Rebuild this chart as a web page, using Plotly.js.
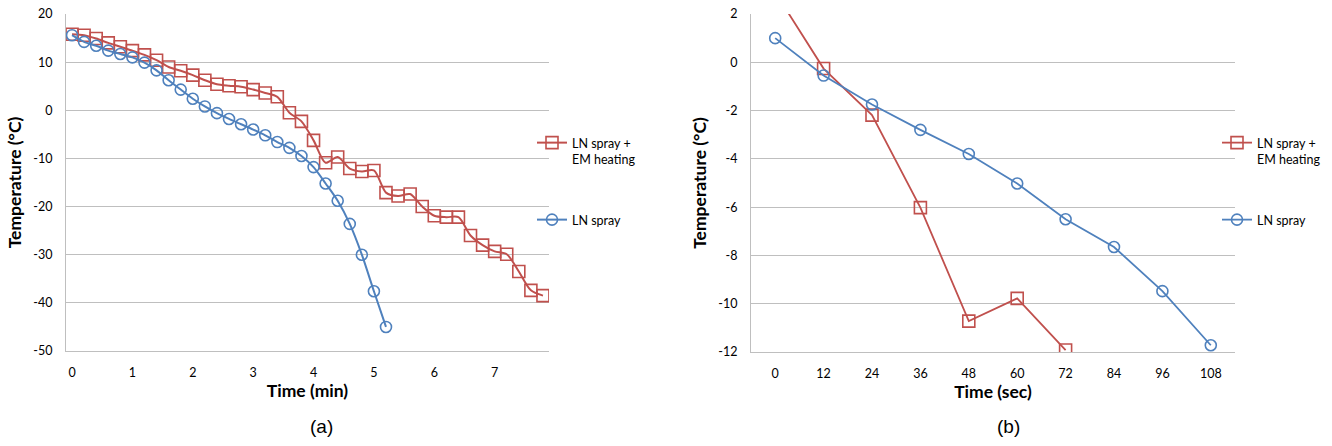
<!DOCTYPE html>
<html>
<head>
<meta charset="utf-8">
<script src="https://cdn.plot.ly/plotly-3.0.1.min.js"></script>
<style>html,body{margin:0;padding:0;background:#fff}#chart{width:1332px;height:446px}</style>
</head>
<body>
<div id="chart"></div>
<script>
// (a) time in minutes
var timeA = [0,0.2,0.4,0.6,0.8,1.0,1.2,1.4,1.6,1.8,2.0,2.2,2.4,2.6,2.8,3.0,3.2,3.4,3.6,3.8,4.0,4.2,4.4,4.6,4.8,5.0,5.2,5.4,5.6,5.8,6.0,6.2,6.4,6.6,6.8,7.0,7.2,7.4,7.6,7.8];
var emA = [15.8,15.6,14.9,14.0,13.2,12.4,11.5,10.4,9.0,8.2,7.3,6.25,5.4,5.1,4.9,4.3,3.6,2.8,-0.5,-2.3,-6.25,-10.9,-9.7,-12.1,-12.7,-12.5,-17.1,-17.8,-17.4,-20.0,-21.9,-22.2,-22.2,-26.0,-28.0,-29.3,-29.9,-33.5,-37.4,-38.5];
var lnA = [15.6,14.2,13.4,12.4,11.7,11.0,9.9,8.3,6.25,4.3,2.4,0.8,-0.6,-1.8,-2.9,-4.0,-5.2,-6.6,-7.8,-9.5,-11.8,-15.2,-18.8,-23.6,-30.0,-37.6,-45.0];
var ticksA = [0,1,2,3,4,5,6,7];
var yTicksA = [20,10,0,-10,-20,-30,-40,-50];
// (b) time in seconds
var timeB = [0,12,24,36,48,60,72,84,96,108];
var emB = [2.9,-0.26,-2.19,-6.02,-10.72,-9.78,-11.92];
var lnB = [1.0,-0.55,-1.75,-2.8,-3.8,-5.02,-6.5,-7.65,-9.48,-11.72];
var yTicksB = [2,0,-2,-4,-6,-8,-10,-12];

var RED = '#C0504D', BLUE = '#4F81BD', GRID = '#BFBFBF';
var FONT = 'Lato, "Open Sans", sans-serif';
var W = 1332, H = 446;
function px(x){return x/W;}
function py(y){return 1 - y/H;}

var traces = [
  {x: timeA, y: emA, xaxis:'x', yaxis:'y', mode:'lines+markers', name:'LN spray +<br>EM heating', legend:'legend',
   line:{color:RED, width:2, shape:'spline', smoothing:0.8},
   marker:{symbol:'square-open', size:12, color:RED, line:{width:1.6, color:RED}}},
  {x: timeA.slice(0, lnA.length), y: lnA, xaxis:'x', yaxis:'y', mode:'lines+markers', name:'LN spray', legend:'legend2',
   line:{color:BLUE, width:2, shape:'spline', smoothing:0.8},
   marker:{symbol:'circle-open', size:11, color:BLUE, line:{width:1.6, color:BLUE}}},
  {x: timeB.slice(0, emB.length), y: emB, xaxis:'x2', yaxis:'y2', mode:'lines+markers', name:'LN spray +<br>EM heating', legend:'legend3',
   line:{color:RED, width:1.8},
   marker:{symbol:'square-open', size:12, color:RED, line:{width:1.6, color:RED}}},
  {x: timeB, y: lnB, xaxis:'x2', yaxis:'y2', mode:'lines+markers', name:'LN spray', legend:'legend4',
   line:{color:BLUE, width:1.8},
   marker:{symbol:'circle-open', size:11, color:BLUE, line:{width:1.6, color:BLUE}}}
];

var tickFont = {family: FONT, size: 12.5, color:'#000'};
var titleFont = {family: FONT, size: 17.5, color:'#000', weight:'bold'};
var legFont = {family: FONT, size: 12.5, color:'#000'};
function leg(x, y){
  return {x: px(x), y: py(y), xanchor:'left', yanchor:'middle', bgcolor:'rgba(0,0,0,0)', font: legFont, valign:'top', itemwidth:30, tracegroupgap:0};
}
function lbl(v){ return String(v).replace('\u2212','-'); }

var layout = {
  width: W, height: H,
  margin:{l:0, r:0, t:0, b:0},
  paper_bgcolor:'#fff', plot_bgcolor:'#fff',
  showlegend: true,
  xaxis: {domain:[px(66), px(549)], range:[-0.1, 7.9], tickvals: ticksA, ticktext: ticksA.map(lbl),
          showgrid:false, zeroline:false, showline:true, linecolor:GRID, linewidth:1, ticks:'',
          tickfont: tickFont, ticklabelstandoff: 10,
          title:{text:'Time (min)', font: titleFont, standoff: 5}, anchor:'y'},
  yaxis: {domain:[py(351), py(14)], range:[-50, 20], tickvals: yTicksA, ticktext: yTicksA.map(lbl),
          showgrid:true, gridcolor:GRID, gridwidth:1, zeroline:false, showline:true, linecolor:GRID, linewidth:1, ticks:'',
          tickfont: tickFont, ticklabelstandoff: 10,
          title:{text:'Temperature (°C)', font: titleFont, standoff: 7}, anchor:'x'},
  xaxis2: {domain:[px(751), px(1235)], range:[-6, 114], tickvals: timeB, ticktext: timeB.map(lbl),
          showgrid:false, zeroline:false, showline:true, linecolor:GRID, linewidth:1, ticks:'',
          tickfont: tickFont, ticklabelstandoff: 10,
          title:{text:'Time (sec)', font: titleFont, standoff: 5}, anchor:'y2'},
  yaxis2: {domain:[py(352), py(14)], range:[-12, 2], tickvals: yTicksB, ticktext: yTicksB.map(lbl),
          showgrid:true, gridcolor:GRID, gridwidth:1, zeroline:false, showline:true, linecolor:GRID, linewidth:1, ticks:'',
          tickfont: tickFont, ticklabelstandoff: 10,
          title:{text:'Temperature (°C)', font: titleFont, standoff: 7}, anchor:'x2'},
  legend: leg(532, 151),
  legend2: leg(532, 220),
  legend3: leg(1217, 151),
  legend4: leg(1217, 220),
  annotations: [
    {text:'(a)', xref:'paper', yref:'paper', x: px(321), y: py(426), showarrow:false, xanchor:'center', yanchor:'middle',
     font:{family:'"Liberation Sans", Arial, sans-serif', size:19, color:'#000'}},
    {text:'(b)', xref:'paper', yref:'paper', x: px(1008), y: py(426), showarrow:false, xanchor:'center', yanchor:'middle',
     font:{family:'"Liberation Sans", Arial, sans-serif', size:19, color:'#000'}}
  ]
};

Plotly.newPlot('chart', traces, layout, {displayModeBar:false, staticPlot:true});
</script>
</body>
</html>
